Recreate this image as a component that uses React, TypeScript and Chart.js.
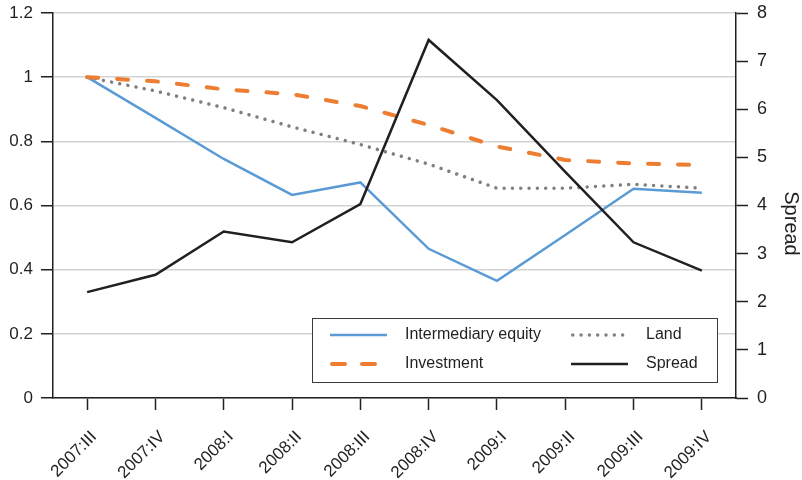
import React, { useEffect, useRef } from "react";
import { Chart, registerables } from "chart.js";

Chart.register(...registerables);

const quarters = [
  "2007:III", "2007:IV", "2008:I", "2008:II", "2008:III",
  "2008:IV", "2009:I", "2009:II", "2009:III", "2009:IV",
];
const intermediaryEquity = [1.0, 0.873, 0.745, 0.633, 0.672, 0.465, 0.365, 0.508, 0.652, 0.64];
const investment = [1.0, 0.987, 0.962, 0.947, 0.91, 0.851, 0.784, 0.742, 0.731, 0.726];
const land = [1.0, 0.957, 0.905, 0.845, 0.79, 0.729, 0.654, 0.654, 0.666, 0.654];
const spread = [2.2, 2.56, 3.46, 3.235, 4.03, 7.44, 6.19, 4.7, 3.235, 2.645];
const spreadTitle = "Spread";

const FONT = "'Liberation Sans', Arial, Helvetica, sans-serif";
const INK = "#231f20";

// Boxed legend in the lower right of the plot, two columns.
const boxLegend = {
  id: "boxLegend",
  afterDatasetsDraw(chart: any) {
    const { ctx, chartArea } = chart;
    const w = 405;
    const h = 64;
    const x0 = chartArea.right - 19 - w;
    const y0 = chartArea.bottom - 16 - h;
    ctx.save();
    ctx.fillStyle = "#ffffff";
    ctx.fillRect(x0, y0, w, h);
    ctx.strokeStyle = "#3a3a3a";
    ctx.lineWidth = 1;
    ctx.strokeRect(x0 + 0.5, y0 + 0.5, w, h);
    // column-major: [equity, investment] then [land, spread]
    const layout = [
      { ds: 0, col: 0, row: 0 },
      { ds: 1, col: 0, row: 1 },
      { ds: 2, col: 1, row: 0 },
      { ds: 3, col: 1, row: 1 },
    ];
    const colX = [x0 + 18, x0 + 259];
    const rowY = [y0 + 17, y0 + 46];
    ctx.font = `16px ${FONT}`;
    ctx.textBaseline = "middle";
    ctx.textAlign = "left";
    layout.forEach(({ ds, col, row }) => {
      const d = chart.data.datasets[ds];
      const sx = colX[col];
      const sy = rowY[row];
      ctx.save();
      ctx.strokeStyle = d.borderColor;
      ctx.lineWidth = d.borderWidth;
      ctx.lineCap = d.borderCapStyle || "butt";
      ctx.setLineDash(d.legendDash || []);
      ctx.beginPath();
      ctx.moveTo(sx + (d.borderCapStyle === "round" ? d.borderWidth / 2 : 0), sy);
      ctx.lineTo(sx + 57, sy);
      ctx.stroke();
      ctx.restore();
      ctx.fillStyle = INK;
      ctx.fillText(d.label, sx + 75, sy);
    });
    ctx.restore();
  },
};

// Title of the right-hand axis, read top to bottom.
const rightTitle = {
  id: "rightTitle",
  afterDraw(chart: any) {
    const { ctx, chartArea } = chart;
    ctx.save();
    ctx.translate(chart.width - 11, (chartArea.top + chartArea.bottom) / 2 + 18);
    ctx.rotate(Math.PI / 2);
    ctx.font = `20px ${FONT}`;
    ctx.fillStyle = INK;
    ctx.textAlign = "center";
    ctx.textBaseline = "middle";
    ctx.fillText(spreadTitle, 0, 0);
    ctx.restore();
  },
};

// Vertical scales keep a fixed width and don't reserve room above the plot.
const fixVertical = (width: number) => (scale: any) => {
  scale.width = width;
  scale.paddingTop = 0;
  scale.paddingBottom = 0;
};

export default function App() {
  const ref = useRef<HTMLCanvasElement>(null);

  useEffect(() => {
    document.body.style.margin = "0";
    const canvas = ref.current;
    if (!canvas) return;
    const chart = new Chart(canvas, {
      type: "line",
      data: {
        labels: quarters,
        datasets: [
          {
            label: "Intermediary equity",
            data: intermediaryEquity,
            yAxisID: "y",
            borderColor: "#5b9bd5",
            borderWidth: 2.5,
            pointRadius: 0,
            tension: 0,
            order: 3,
          },
          {
            label: "Investment",
            data: investment,
            yAxisID: "y",
            borderColor: "#ed7d31",
            borderWidth: 4,
            borderCapStyle: "round",
            borderDash: [11, 19],
            legendDash: [13, 17],
            pointRadius: 0,
            tension: 0,
            order: 2,
          },
          {
            label: "Land",
            data: land,
            yAxisID: "y",
            borderColor: "#7f7f7f",
            borderWidth: 3.5,
            borderCapStyle: "round",
            borderDash: [0.01, 8.3],
            legendDash: [0.01, 8.3],
            pointRadius: 0,
            tension: 0,
            order: 4,
          },
          {
            label: "Spread",
            data: spread,
            yAxisID: "y2",
            borderColor: INK,
            borderWidth: 2.5,
            pointRadius: 0,
            tension: 0,
            order: 1,
          },
        ] as any,
      },
      options: {
        responsive: false,
        animation: false,
        layout: { padding: { top: 13, left: 0, right: 0, bottom: 0 } },
        plugins: {
          legend: { display: false },
          tooltip: { enabled: false },
        },
        scales: {
          x: {
            offset: true,
            grid: {
              offset: false,
              drawOnChartArea: false,
              drawTicks: true,
              tickLength: 12,
              tickColor: INK,
              tickWidth: 1.5,
            },
            border: { color: INK, width: 1.5 },
            ticks: {
              color: INK,
              font: { family: FONT, size: 17 },
              minRotation: 45,
              maxRotation: 45,
              padding: 17,
              labelOffset: 7,
              autoSkip: false,
            },
            afterFit(scale: any) {
              scale.height = 82;
              scale.paddingLeft = 0;
              scale.paddingRight = 0;
            },
          },
          y: {
            position: "left",
            min: 0,
            max: 1.2,
            grid: {
              color: "#d3d3d3",
              lineWidth: 1.5,
              tickLength: 12,
              tickColor: INK,
              tickWidth: 1.5,
            },
            border: { color: INK, width: 1.5 },
            ticks: {
              stepSize: 0.2,
              color: INK,
              font: { family: FONT, size: 17 },
              padding: 8,
              callback: (v: any) => String(Math.round(Number(v) * 10) / 10),
            },
            afterFit: fixVertical(53),
          },
          y2: {
            position: "right",
            min: 0,
            max: 8,
            grid: {
              drawOnChartArea: false,
              tickLength: 12,
              tickColor: INK,
              tickWidth: 1.5,
            },
            border: { color: INK, width: 1.5 },
            ticks: {
              stepSize: 1,
              color: INK,
              font: { family: FONT, size: 18 },
              padding: 9,
            },
            afterFit: fixVertical(66),
          },
        },
      },
      plugins: [boxLegend, rightTitle],
    });
    return () => chart.destroy();
  }, []);

  return (
    <div style={{ width: 802, height: 480, background: "#fff" }}>
      <canvas ref={ref} width={802} height={480} />
    </div>
  );
}
